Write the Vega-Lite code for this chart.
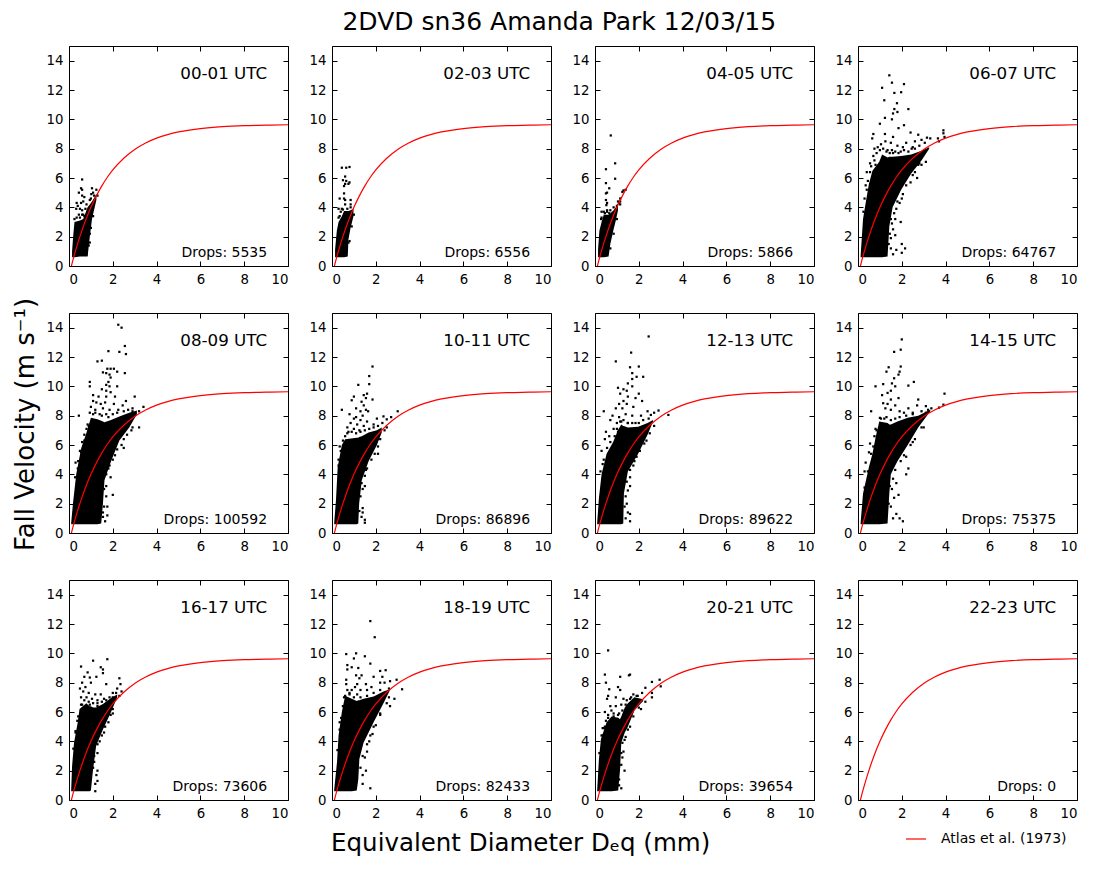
{"$schema":"https://vega.github.io/schema/vega-lite/v6.json","background":"white","padding":{"left":13,"top":9,"right":0,"bottom":0},
"config":{"font":"DejaVu Sans","view":{"stroke":null},"axis":{"grid":false,"labelFont":"DejaVu Sans","labelFontSize":13.3,"labelColor":"black","tickColor":"black","domainColor":"black","title":null}},
"title":{"text":"2DVD sn36 Amanda Park 12/03/15","font":"DejaVu Sans","fontSize":25,"fontWeight":"normal","color":"black","anchor":"middle","offset":11,"dx":13},
"vconcat":[{"title":{"text":"Equivalent Diameter Dₑq (mm)","orient":"bottom","font":"DejaVu Sans","fontSize":24.5,"fontWeight":"normal","color":"black","anchor":"start","dx":318,"offset":13},
"hconcat":[{"title":{"text":"Fall Velocity (m s⁻¹)","orient":"left","font":"DejaVu Sans","fontSize":26,"fontWeight":"normal","color":"black","anchor":"middle","offset":7,"dx":8},
"bounds":"flush",
"data":{"values":[
{"p":"00-01 UTC","n":"Drops: 5535"},{"p":"02-03 UTC","n":"Drops: 6556"},{"p":"04-05 UTC","n":"Drops: 5866"},{"p":"06-07 UTC","n":"Drops: 64767"},{"p":"08-09 UTC","n":"Drops: 100592"},{"p":"10-11 UTC","n":"Drops: 86896"},{"p":"12-13 UTC","n":"Drops: 89622"},{"p":"14-15 UTC","n":"Drops: 75375"},{"p":"16-17 UTC","n":"Drops: 73606"},{"p":"18-19 UTC","n":"Drops: 82433"},{"p":"20-21 UTC","n":"Drops: 39654"},{"p":"22-23 UTC","n":"Drops: 0"},
{"p":"00-01 UTC","d":0.14,"lo":0.6,"hi":1},{"p":"00-01 UTC","d":0.2,"lo":0.6,"hi":2.2},{"p":"00-01 UTC","d":0.25,"lo":0.6,"hi":3},{"p":"00-01 UTC","d":0.5,"lo":0.65,"hi":3.1},{"p":"00-01 UTC","d":0.65,"lo":0.65,"hi":3.2},{"p":"00-01 UTC","d":0.85,"lo":0.65,"hi":4},{"p":"00-01 UTC","d":0.95,"lo":2,"hi":4.2},{"p":"00-01 UTC","d":1.05,"lo":3.2,"hi":4.4},{"p":"00-01 UTC","d":1.25,"lo":4.5,"hi":4.9},
{"p":"02-03 UTC","d":0.14,"lo":0.6,"hi":1.1},{"p":"02-03 UTC","d":0.22,"lo":0.6,"hi":2.4},{"p":"02-03 UTC","d":0.3,"lo":0.6,"hi":3},{"p":"02-03 UTC","d":0.45,"lo":0.6,"hi":3.4},{"p":"02-03 UTC","d":0.55,"lo":0.6,"hi":3.75},{"p":"02-03 UTC","d":0.72,"lo":0.65,"hi":3.75},{"p":"02-03 UTC","d":0.75,"lo":1.8,"hi":3.75},{"p":"02-03 UTC","d":0.85,"lo":2.6,"hi":3.8},{"p":"02-03 UTC","d":0.98,"lo":3.4,"hi":3.9},
{"p":"04-05 UTC","d":0.14,"lo":0.6,"hi":1.1},{"p":"04-05 UTC","d":0.2,"lo":0.6,"hi":2.4},{"p":"04-05 UTC","d":0.3,"lo":0.6,"hi":3},{"p":"04-05 UTC","d":0.4,"lo":0.6,"hi":3.5},{"p":"04-05 UTC","d":0.62,"lo":0.65,"hi":3.5},{"p":"04-05 UTC","d":0.7,"lo":1.5,"hi":3.6},{"p":"04-05 UTC","d":0.85,"lo":2.5,"hi":3.8},{"p":"04-05 UTC","d":0.95,"lo":3.1,"hi":4},{"p":"04-05 UTC","d":1.05,"lo":3.8,"hi":4.3},
{"p":"06-07 UTC","d":0.12,"lo":0.6,"hi":0.7},{"p":"06-07 UTC","d":0.23,"lo":0.6,"hi":3.2},{"p":"06-07 UTC","d":0.35,"lo":0.6,"hi":4.3},{"p":"06-07 UTC","d":0.5,"lo":0.6,"hi":5.6},{"p":"06-07 UTC","d":0.66,"lo":0.6,"hi":6.5},{"p":"06-07 UTC","d":0.97,"lo":0.6,"hi":7.1},{"p":"06-07 UTC","d":1.1,"lo":0.6,"hi":7.6},{"p":"06-07 UTC","d":1.35,"lo":0.65,"hi":7.4},{"p":"06-07 UTC","d":1.43,"lo":2.7,"hi":7.45},{"p":"06-07 UTC","d":1.58,"lo":4,"hi":7.45},{"p":"06-07 UTC","d":1.97,"lo":5.2,"hi":7.5},{"p":"06-07 UTC","d":2.43,"lo":6.3,"hi":7.6},{"p":"06-07 UTC","d":2.9,"lo":7.2,"hi":7.85},{"p":"06-07 UTC","d":3.25,"lo":8,"hi":8.1},
{"p":"08-09 UTC","d":0.1,"lo":0.6,"hi":0.7},{"p":"08-09 UTC","d":0.18,"lo":0.6,"hi":2},{"p":"08-09 UTC","d":0.33,"lo":0.6,"hi":4},{"p":"08-09 UTC","d":0.56,"lo":0.6,"hi":5.8},{"p":"08-09 UTC","d":0.79,"lo":0.6,"hi":6.8},{"p":"08-09 UTC","d":1,"lo":0.6,"hi":7.85},{"p":"08-09 UTC","d":1.3,"lo":0.6,"hi":7.75},{"p":"08-09 UTC","d":1.47,"lo":0.65,"hi":7.65},{"p":"08-09 UTC","d":1.55,"lo":2,"hi":7.6},{"p":"08-09 UTC","d":1.62,"lo":3.6,"hi":7.55},{"p":"08-09 UTC","d":1.92,"lo":4.9,"hi":7.7},{"p":"08-09 UTC","d":2.3,"lo":6.3,"hi":7.95},{"p":"08-09 UTC","d":2.75,"lo":7.2,"hi":8.2},{"p":"08-09 UTC","d":3.1,"lo":8.1,"hi":8.35},
{"p":"10-11 UTC","d":0.1,"lo":0.6,"hi":0.7},{"p":"10-11 UTC","d":0.18,"lo":0.6,"hi":2.2},{"p":"10-11 UTC","d":0.26,"lo":0.6,"hi":4.5},{"p":"10-11 UTC","d":0.45,"lo":0.6,"hi":6},{"p":"10-11 UTC","d":0.6,"lo":0.6,"hi":6.4},{"p":"10-11 UTC","d":1.13,"lo":0.6,"hi":6.5},{"p":"10-11 UTC","d":1.2,"lo":0.65,"hi":6.5},{"p":"10-11 UTC","d":1.24,"lo":2,"hi":6.55},{"p":"10-11 UTC","d":1.36,"lo":3.6,"hi":6.6},{"p":"10-11 UTC","d":1.67,"lo":4.9,"hi":6.85},{"p":"10-11 UTC","d":2.05,"lo":6,"hi":7},{"p":"10-11 UTC","d":2.27,"lo":6.85,"hi":7.2},
{"p":"12-13 UTC","d":0.1,"lo":0.6,"hi":0.7},{"p":"12-13 UTC","d":0.18,"lo":0.6,"hi":2.4},{"p":"12-13 UTC","d":0.3,"lo":0.6,"hi":4},{"p":"12-13 UTC","d":0.53,"lo":0.6,"hi":5.4},{"p":"12-13 UTC","d":0.83,"lo":0.6,"hi":6.2},{"p":"12-13 UTC","d":1.06,"lo":0.6,"hi":7.05},{"p":"12-13 UTC","d":1.2,"lo":0.6,"hi":7.4},{"p":"12-13 UTC","d":1.29,"lo":0.65,"hi":7.3},{"p":"12-13 UTC","d":1.32,"lo":2.7,"hi":7.3},{"p":"12-13 UTC","d":1.5,"lo":4.2,"hi":7.2},{"p":"12-13 UTC","d":1.97,"lo":5.4,"hi":7.25},{"p":"12-13 UTC","d":2.4,"lo":6.7,"hi":7.5},{"p":"12-13 UTC","d":2.65,"lo":7.6,"hi":7.7},
{"p":"14-15 UTC","d":0.12,"lo":0.6,"hi":0.7},{"p":"14-15 UTC","d":0.23,"lo":0.6,"hi":2.7},{"p":"14-15 UTC","d":0.5,"lo":0.6,"hi":4.5},{"p":"14-15 UTC","d":0.66,"lo":0.6,"hi":5.4},{"p":"14-15 UTC","d":0.8,"lo":0.6,"hi":6.5},{"p":"14-15 UTC","d":0.97,"lo":0.6,"hi":7.6},{"p":"14-15 UTC","d":1.35,"lo":0.65,"hi":7.5},{"p":"14-15 UTC","d":1.43,"lo":2.7,"hi":7.4},{"p":"14-15 UTC","d":1.5,"lo":4,"hi":7.4},{"p":"14-15 UTC","d":1.8,"lo":4.9,"hi":7.6},{"p":"14-15 UTC","d":2.27,"lo":6,"hi":7.85},{"p":"14-15 UTC","d":2.75,"lo":7.2,"hi":8},{"p":"14-15 UTC","d":3.3,"lo":8.3,"hi":8.4},
{"p":"16-17 UTC","d":0.1,"lo":0.6,"hi":0.7},{"p":"16-17 UTC","d":0.14,"lo":0.6,"hi":2.3},{"p":"16-17 UTC","d":0.23,"lo":0.6,"hi":3.9},{"p":"16-17 UTC","d":0.4,"lo":0.6,"hi":5.3},{"p":"16-17 UTC","d":0.48,"lo":0.6,"hi":6.2},{"p":"16-17 UTC","d":0.79,"lo":0.6,"hi":6.6},{"p":"16-17 UTC","d":0.94,"lo":0.6,"hi":6.4},{"p":"16-17 UTC","d":1,"lo":0.65,"hi":6.4},{"p":"16-17 UTC","d":1.1,"lo":2.1,"hi":6.3},{"p":"16-17 UTC","d":1.24,"lo":3.7,"hi":6.3},{"p":"16-17 UTC","d":1.55,"lo":4.8,"hi":6.55},{"p":"16-17 UTC","d":1.92,"lo":6,"hi":6.95},{"p":"16-17 UTC","d":2.2,"lo":7,"hi":7.2},
{"p":"18-19 UTC","d":0.1,"lo":0.6,"hi":0.7},{"p":"18-19 UTC","d":0.23,"lo":0.6,"hi":2.6},{"p":"18-19 UTC","d":0.3,"lo":0.6,"hi":4.4},{"p":"18-19 UTC","d":0.45,"lo":0.6,"hi":6},{"p":"18-19 UTC","d":0.6,"lo":0.6,"hi":7.1},{"p":"18-19 UTC","d":0.9,"lo":0.6,"hi":6.9},{"p":"18-19 UTC","d":1.13,"lo":0.65,"hi":6.75},{"p":"18-19 UTC","d":1.2,"lo":1.4,"hi":6.8},{"p":"18-19 UTC","d":1.25,"lo":2.8,"hi":6.8},{"p":"18-19 UTC","d":1.44,"lo":3.9,"hi":6.9},{"p":"18-19 UTC","d":1.9,"lo":5.3,"hi":7.05},{"p":"18-19 UTC","d":2.35,"lo":6.6,"hi":7.4},{"p":"18-19 UTC","d":2.65,"lo":7.5,"hi":7.55},
{"p":"20-21 UTC","d":0.1,"lo":0.6,"hi":0.7},{"p":"20-21 UTC","d":0.18,"lo":0.6,"hi":2.8},{"p":"20-21 UTC","d":0.27,"lo":0.6,"hi":4.15},{"p":"20-21 UTC","d":0.53,"lo":0.6,"hi":5.3},{"p":"20-21 UTC","d":0.76,"lo":0.6,"hi":5.7},{"p":"20-21 UTC","d":1.06,"lo":0.65,"hi":5.6},{"p":"20-21 UTC","d":1.14,"lo":2,"hi":5.5},{"p":"20-21 UTC","d":1.2,"lo":3.9,"hi":5.7},{"p":"20-21 UTC","d":1.36,"lo":4.6,"hi":6.3},{"p":"20-21 UTC","d":1.5,"lo":5,"hi":6.6},{"p":"20-21 UTC","d":1.8,"lo":6.1,"hi":7},{"p":"20-21 UTC","d":2.1,"lo":6.6,"hi":6.9},{"p":"20-21 UTC","d":2.2,"lo":6.75,"hi":6.85},
{"p":"00-01 UTC","d":0.6,"v":5.9},{"p":"00-01 UTC","d":1.05,"v":5.3},{"p":"00-01 UTC","d":0.55,"v":5.3},{"p":"00-01 UTC","d":0.6,"v":5.2},{"p":"00-01 UTC","d":0.45,"v":5},{"p":"00-01 UTC","d":0.6,"v":4.8},{"p":"00-01 UTC","d":0.7,"v":4.7},{"p":"00-01 UTC","d":1.02,"v":4.9},{"p":"00-01 UTC","d":1.1,"v":5},{"p":"00-01 UTC","d":1.25,"v":5.2},{"p":"00-01 UTC","d":0.35,"v":4.3},{"p":"00-01 UTC","d":0.4,"v":4.1},{"p":"00-01 UTC","d":0.55,"v":4.3},{"p":"00-01 UTC","d":0.65,"v":4.4},{"p":"00-01 UTC","d":0.5,"v":3.9},{"p":"00-01 UTC","d":0.6,"v":3.8},{"p":"00-01 UTC","d":0.33,"v":3.9},{"p":"00-01 UTC","d":0.75,"v":3.9},{"p":"00-01 UTC","d":0.45,"v":3.5},{"p":"00-01 UTC","d":0.65,"v":3.5},{"p":"00-01 UTC","d":0.95,"v":2.2},{"p":"00-01 UTC","d":0.9,"v":1.4},{"p":"00-01 UTC","d":0.8,"v":0.8},{"p":"00-01 UTC","d":0.85,"v":1.9},{"p":"00-01 UTC","d":0.8,"v":2.5},{"p":"00-01 UTC","d":1.3,"v":4.8},{"p":"00-01 UTC","d":0.25,"v":3.2},{"p":"00-01 UTC","d":0.35,"v":3.3},{"p":"00-01 UTC","d":0.5,"v":3.3},{"p":"00-01 UTC","d":0.6,"v":3.5},{"p":"00-01 UTC","d":0.7,"v":3.4},{"p":"00-01 UTC","d":0.8,"v":4.2},{"p":"00-01 UTC","d":0.95,"v":4.5},{"p":"00-01 UTC","d":1,"v":4.6},{"p":"00-01 UTC","d":1.15,"v":4.8},{"p":"00-01 UTC","d":0.95,"v":1.6},{"p":"00-01 UTC","d":1,"v":2.6},{"p":"00-01 UTC","d":1.1,"v":3.4},
{"p":"02-03 UTC","d":0.45,"v":6.7},{"p":"02-03 UTC","d":0.65,"v":6.7},{"p":"02-03 UTC","d":0.8,"v":6.75},{"p":"02-03 UTC","d":0.6,"v":6.1},{"p":"02-03 UTC","d":0.5,"v":5.85},{"p":"02-03 UTC","d":0.65,"v":5.8},{"p":"02-03 UTC","d":0.8,"v":5.7},{"p":"02-03 UTC","d":0.75,"v":5.6},{"p":"02-03 UTC","d":0.55,"v":5.45},{"p":"02-03 UTC","d":0.6,"v":5.6},{"p":"02-03 UTC","d":0.55,"v":4.95},{"p":"02-03 UTC","d":0.35,"v":4.6},{"p":"02-03 UTC","d":0.55,"v":4.6},{"p":"02-03 UTC","d":0.6,"v":4.5},{"p":"02-03 UTC","d":0.85,"v":4.5},{"p":"02-03 UTC","d":0.85,"v":4.2},{"p":"02-03 UTC","d":0.6,"v":4.2},{"p":"02-03 UTC","d":0.3,"v":3.9},{"p":"02-03 UTC","d":0.45,"v":3.9},{"p":"02-03 UTC","d":0.35,"v":3.4},{"p":"02-03 UTC","d":0.75,"v":1.6},{"p":"02-03 UTC","d":0.3,"v":3.3},{"p":"02-03 UTC","d":0.4,"v":3.7},{"p":"02-03 UTC","d":0.5,"v":3.85},{"p":"02-03 UTC","d":0.7,"v":3.9},{"p":"02-03 UTC","d":0.85,"v":4},{"p":"02-03 UTC","d":0.8,"v":1.7},{"p":"02-03 UTC","d":0.9,"v":2.7},{"p":"02-03 UTC","d":1,"v":3.5},
{"p":"04-05 UTC","d":0.72,"v":8.9},{"p":"04-05 UTC","d":0.92,"v":7},{"p":"04-05 UTC","d":0.5,"v":6.6},{"p":"04-05 UTC","d":0.92,"v":5.95},{"p":"04-05 UTC","d":0.5,"v":5.65},{"p":"04-05 UTC","d":0.65,"v":5.3},{"p":"04-05 UTC","d":0.5,"v":4.95},{"p":"04-05 UTC","d":0.55,"v":5},{"p":"04-05 UTC","d":0.5,"v":4.5},{"p":"04-05 UTC","d":0.55,"v":4.3},{"p":"04-05 UTC","d":0.52,"v":4.15},{"p":"04-05 UTC","d":1.3,"v":5.15},{"p":"04-05 UTC","d":1.4,"v":5.2},{"p":"04-05 UTC","d":1.25,"v":5.05},{"p":"04-05 UTC","d":1.15,"v":4.6},{"p":"04-05 UTC","d":1.05,"v":4.4},{"p":"04-05 UTC","d":1.1,"v":4.3},{"p":"04-05 UTC","d":1.15,"v":4.2},{"p":"04-05 UTC","d":1,"v":4.1},{"p":"04-05 UTC","d":0.3,"v":3.7},{"p":"04-05 UTC","d":0.45,"v":3.6},{"p":"04-05 UTC","d":0.55,"v":3.8},{"p":"04-05 UTC","d":0.65,"v":3.6},{"p":"04-05 UTC","d":0.28,"v":3.2},{"p":"04-05 UTC","d":0.3,"v":3.3},{"p":"04-05 UTC","d":0.4,"v":3.7},{"p":"04-05 UTC","d":0.55,"v":3.7},{"p":"04-05 UTC","d":0.7,"v":3.8},{"p":"04-05 UTC","d":0.85,"v":4},{"p":"04-05 UTC","d":0.7,"v":1.2},{"p":"04-05 UTC","d":0.85,"v":2.2},{"p":"04-05 UTC","d":1,"v":3.2},{"p":"04-05 UTC","d":1.15,"v":4.4},
{"p":"06-07 UTC","d":1.43,"v":13},{"p":"06-07 UTC","d":1.55,"v":12.5},{"p":"06-07 UTC","d":2.1,"v":12.4},{"p":"06-07 UTC","d":1.1,"v":12.15},{"p":"06-07 UTC","d":1.66,"v":11.8},{"p":"06-07 UTC","d":1.97,"v":11.85},{"p":"06-07 UTC","d":1.2,"v":11.3},{"p":"06-07 UTC","d":1.78,"v":11.1},{"p":"06-07 UTC","d":2.3,"v":10.7},{"p":"06-07 UTC","d":1.66,"v":10.7},{"p":"06-07 UTC","d":1.8,"v":10.5},{"p":"06-07 UTC","d":1.6,"v":10.4},{"p":"06-07 UTC","d":1.23,"v":10.1},{"p":"06-07 UTC","d":1.55,"v":10},{"p":"06-07 UTC","d":1,"v":9.7},{"p":"06-07 UTC","d":2.1,"v":9.6},{"p":"06-07 UTC","d":1.85,"v":9.4},{"p":"06-07 UTC","d":1.23,"v":9},{"p":"06-07 UTC","d":1.6,"v":8.8},{"p":"06-07 UTC","d":0.65,"v":8.7},{"p":"06-07 UTC","d":0.7,"v":9},{"p":"06-07 UTC","d":2.4,"v":9.1},{"p":"06-07 UTC","d":3.9,"v":9.25},{"p":"06-07 UTC","d":3.9,"v":9.05},{"p":"06-07 UTC","d":3.95,"v":8.8},{"p":"06-07 UTC","d":3.65,"v":8.7},{"p":"06-07 UTC","d":3.7,"v":8.5},{"p":"06-07 UTC","d":3.15,"v":8.75},{"p":"06-07 UTC","d":2.75,"v":8.95},{"p":"06-07 UTC","d":3.3,"v":8.7},{"p":"06-07 UTC","d":2.6,"v":8.5},{"p":"06-07 UTC","d":2.9,"v":8.6},{"p":"06-07 UTC","d":3.05,"v":8.4},{"p":"06-07 UTC","d":2.8,"v":8.2},{"p":"06-07 UTC","d":2.5,"v":8.1},{"p":"06-07 UTC","d":2.2,"v":8.4},{"p":"06-07 UTC","d":2.05,"v":8.1},{"p":"06-07 UTC","d":1.8,"v":8.2},{"p":"06-07 UTC","d":1.5,"v":8.4},{"p":"06-07 UTC","d":1.25,"v":8.5},{"p":"06-07 UTC","d":1.05,"v":8.3},{"p":"06-07 UTC","d":0.9,"v":8.1},{"p":"06-07 UTC","d":0.75,"v":8},{"p":"06-07 UTC","d":0.85,"v":7.7},{"p":"06-07 UTC","d":1.35,"v":7.9},{"p":"06-07 UTC","d":1.6,"v":7.7},{"p":"06-07 UTC","d":1.95,"v":7.8},{"p":"06-07 UTC","d":0.7,"v":7.5},{"p":"06-07 UTC","d":0.55,"v":7},{"p":"06-07 UTC","d":0.4,"v":6.4},{"p":"06-07 UTC","d":0.55,"v":6.4},{"p":"06-07 UTC","d":0.35,"v":5.5},{"p":"06-07 UTC","d":2.75,"v":6.9},{"p":"06-07 UTC","d":3.1,"v":7.1},{"p":"06-07 UTC","d":2.8,"v":7},{"p":"06-07 UTC","d":2.5,"v":6.2},{"p":"06-07 UTC","d":2.7,"v":6},{"p":"06-07 UTC","d":2.4,"v":5.7},{"p":"06-07 UTC","d":2.0,"v":4.6},{"p":"06-07 UTC","d":1.9,"v":4.3},{"p":"06-07 UTC","d":1.75,"v":3.9},{"p":"06-07 UTC","d":1.95,"v":3},{"p":"06-07 UTC","d":1.7,"v":3.2},{"p":"06-07 UTC","d":1.55,"v":2.9},{"p":"06-07 UTC","d":1.6,"v":2.5},{"p":"06-07 UTC","d":1.7,"v":2.1},{"p":"06-07 UTC","d":1.5,"v":1.9},{"p":"06-07 UTC","d":2,"v":1.5},{"p":"06-07 UTC","d":2.15,"v":1.2},{"p":"06-07 UTC","d":2,"v":0.9},{"p":"06-07 UTC","d":1.75,"v":1.1},{"p":"06-07 UTC","d":1.6,"v":0.8},{"p":"06-07 UTC","d":1.5,"v":1.2},{"p":"06-07 UTC","d":1.4,"v":1.5},{"p":"06-07 UTC","d":1.45,"v":3.5},{"p":"06-07 UTC","d":1,"v":7.9},{"p":"06-07 UTC","d":1.15,"v":8},{"p":"06-07 UTC","d":1.3,"v":7.8},{"p":"06-07 UTC","d":1.45,"v":7.7},{"p":"06-07 UTC","d":1.55,"v":7.9},{"p":"06-07 UTC","d":1.7,"v":7.8},{"p":"06-07 UTC","d":1.85,"v":7.7},{"p":"06-07 UTC","d":2.1,"v":7.9},{"p":"06-07 UTC","d":2.3,"v":7.8},{"p":"06-07 UTC","d":2.45,"v":8},{"p":"06-07 UTC","d":2.6,"v":8},{"p":"06-07 UTC","d":0.6,"v":6.8},{"p":"06-07 UTC","d":0.75,"v":7.2},{"p":"06-07 UTC","d":0.8,"v":6.9},{"p":"06-07 UTC","d":0.45,"v":5.8},{"p":"06-07 UTC","d":0.3,"v":4.6},{"p":"06-07 UTC","d":0.4,"v":5.2},{"p":"06-07 UTC","d":0.25,"v":3.7},{"p":"06-07 UTC","d":1.45,"v":2.2},{"p":"06-07 UTC","d":1.5,"v":3.2},{"p":"06-07 UTC","d":1.65,"v":3.6},{"p":"06-07 UTC","d":1.8,"v":4.4},{"p":"06-07 UTC","d":2.05,"v":4.9},{"p":"06-07 UTC","d":2.2,"v":5.5},{"p":"06-07 UTC","d":2.6,"v":6.4},{"p":"06-07 UTC","d":2.9,"v":6.9},
{"p":"08-09 UTC","d":2.25,"v":14.2},{"p":"08-09 UTC","d":2.4,"v":14},{"p":"08-09 UTC","d":2.55,"v":12.75},{"p":"08-09 UTC","d":1.8,"v":12.4},{"p":"08-09 UTC","d":2.3,"v":12.35},{"p":"08-09 UTC","d":2.6,"v":12.2},{"p":"08-09 UTC","d":1.3,"v":11.7},{"p":"08-09 UTC","d":1.5,"v":11.75},{"p":"08-09 UTC","d":1.75,"v":11.2},{"p":"08-09 UTC","d":1.9,"v":11.2},{"p":"08-09 UTC","d":2.05,"v":11.2},{"p":"08-09 UTC","d":1.55,"v":10.95},{"p":"08-09 UTC","d":1.7,"v":10.9},{"p":"08-09 UTC","d":1.85,"v":10.8},{"p":"08-09 UTC","d":2.2,"v":11},{"p":"08-09 UTC","d":2.55,"v":10.9},{"p":"08-09 UTC","d":1.9,"v":10.6},{"p":"08-09 UTC","d":1.8,"v":10.3},{"p":"08-09 UTC","d":1.7,"v":10.1},{"p":"08-09 UTC","d":1.85,"v":10},{"p":"08-09 UTC","d":0.95,"v":10.3},{"p":"08-09 UTC","d":0.95,"v":10},{"p":"08-09 UTC","d":2.2,"v":10},{"p":"08-09 UTC","d":1.5,"v":9.8},{"p":"08-09 UTC","d":1.7,"v":9.7},{"p":"08-09 UTC","d":1.9,"v":9.6},{"p":"08-09 UTC","d":1.1,"v":9.4},{"p":"08-09 UTC","d":1.35,"v":9.3},{"p":"08-09 UTC","d":1.7,"v":9.3},{"p":"08-09 UTC","d":2.1,"v":9.3},{"p":"08-09 UTC","d":3,"v":9.3},{"p":"08-09 UTC","d":2.6,"v":9},{"p":"08-09 UTC","d":1.1,"v":9},{"p":"08-09 UTC","d":1.25,"v":8.9},{"p":"08-09 UTC","d":1.45,"v":8.8},{"p":"08-09 UTC","d":1.65,"v":8.9},{"p":"08-09 UTC","d":2.05,"v":8.8},{"p":"08-09 UTC","d":2.45,"v":8.7},{"p":"08-09 UTC","d":1,"v":8.6},{"p":"08-09 UTC","d":1.2,"v":8.4},{"p":"08-09 UTC","d":1.55,"v":8.5},{"p":"08-09 UTC","d":1.85,"v":8.4},{"p":"08-09 UTC","d":2.25,"v":8.4},{"p":"08-09 UTC","d":2.9,"v":8.5},{"p":"08-09 UTC","d":3.4,"v":8.6},{"p":"08-09 UTC","d":3.2,"v":8.3},{"p":"08-09 UTC","d":0.95,"v":8.2},{"p":"08-09 UTC","d":0.45,"v":8},{"p":"08-09 UTC","d":1.1,"v":8.1},{"p":"08-09 UTC","d":1.7,"v":8.1},{"p":"08-09 UTC","d":2,"v":8.1},{"p":"08-09 UTC","d":0.85,"v":7.4},{"p":"08-09 UTC","d":0.7,"v":6.7},{"p":"08-09 UTC","d":0.6,"v":6.2},{"p":"08-09 UTC","d":0.55,"v":5.5},{"p":"08-09 UTC","d":0.3,"v":4.8},{"p":"08-09 UTC","d":0.4,"v":4.4},{"p":"08-09 UTC","d":3.2,"v":7.2},{"p":"08-09 UTC","d":2.9,"v":7.2},{"p":"08-09 UTC","d":2.5,"v":6.4},{"p":"08-09 UTC","d":2.5,"v":5.8},{"p":"08-09 UTC","d":2.1,"v":5.3},{"p":"08-09 UTC","d":1.9,"v":3.8},{"p":"08-09 UTC","d":2,"v":2.6},{"p":"08-09 UTC","d":1.8,"v":4.4},{"p":"08-09 UTC","d":1.7,"v":3.2},{"p":"08-09 UTC","d":1.7,"v":2.5},{"p":"08-09 UTC","d":1.75,"v":1.8},{"p":"08-09 UTC","d":1.75,"v":1.2},{"p":"08-09 UTC","d":1.65,"v":0.8},{"p":"08-09 UTC","d":1.55,"v":1.1},{"p":"08-09 UTC","d":1.5,"v":2.6},{"p":"08-09 UTC","d":0.9,"v":7.3},{"p":"08-09 UTC","d":0.8,"v":7.1},{"p":"08-09 UTC","d":0.7,"v":6.3},{"p":"08-09 UTC","d":0.5,"v":5.6},{"p":"08-09 UTC","d":0.42,"v":4.9},{"p":"08-09 UTC","d":0.28,"v":3.8},{"p":"08-09 UTC","d":1.2,"v":8.2},{"p":"08-09 UTC","d":1.4,"v":8.1},{"p":"08-09 UTC","d":1.5,"v":8},{"p":"08-09 UTC","d":1.8,"v":7.9},{"p":"08-09 UTC","d":2.2,"v":8.2},{"p":"08-09 UTC","d":2.5,"v":8.3},{"p":"08-09 UTC","d":2.7,"v":8.4},{"p":"08-09 UTC","d":2.9,"v":8.3},{"p":"08-09 UTC","d":1.6,"v":3},{"p":"08-09 UTC","d":1.6,"v":1.8},{"p":"08-09 UTC","d":1.55,"v":1.4},{"p":"08-09 UTC","d":1.7,"v":4},{"p":"08-09 UTC","d":1.85,"v":4.6},{"p":"08-09 UTC","d":2,"v":5},{"p":"08-09 UTC","d":2.2,"v":5.7},{"p":"08-09 UTC","d":2.4,"v":6},{"p":"08-09 UTC","d":2.65,"v":6.7},{"p":"08-09 UTC","d":2.85,"v":7},
{"p":"10-11 UTC","d":1.85,"v":11.35},{"p":"10-11 UTC","d":1.7,"v":10.7},{"p":"10-11 UTC","d":1.7,"v":10.15},{"p":"10-11 UTC","d":1.2,"v":10.1},{"p":"10-11 UTC","d":1.6,"v":9.5},{"p":"10-11 UTC","d":1.45,"v":9.4},{"p":"10-11 UTC","d":1,"v":9.3},{"p":"10-11 UTC","d":1.55,"v":9.2},{"p":"10-11 UTC","d":0.9,"v":9.05},{"p":"10-11 UTC","d":1.85,"v":9.1},{"p":"10-11 UTC","d":1.35,"v":8.95},{"p":"10-11 UTC","d":1.45,"v":8.7},{"p":"10-11 UTC","d":1.1,"v":8.5},{"p":"10-11 UTC","d":1.55,"v":8.4},{"p":"10-11 UTC","d":0.45,"v":8.4},{"p":"10-11 UTC","d":1.3,"v":8.3},{"p":"10-11 UTC","d":1.65,"v":8.3},{"p":"10-11 UTC","d":3,"v":8.3},{"p":"10-11 UTC","d":0.8,"v":8.1},{"p":"10-11 UTC","d":1.4,"v":8},{"p":"10-11 UTC","d":1.1,"v":7.9},{"p":"10-11 UTC","d":2.35,"v":7.95},{"p":"10-11 UTC","d":2.7,"v":7.9},{"p":"10-11 UTC","d":1,"v":7.8},{"p":"10-11 UTC","d":1.3,"v":7.7},{"p":"10-11 UTC","d":2.05,"v":7.8},{"p":"10-11 UTC","d":2.5,"v":7.75},{"p":"10-11 UTC","d":1.6,"v":7.6},{"p":"10-11 UTC","d":0.85,"v":7.5},{"p":"10-11 UTC","d":1.15,"v":7.4},{"p":"10-11 UTC","d":1.45,"v":7.3},{"p":"10-11 UTC","d":1.9,"v":7.4},{"p":"10-11 UTC","d":2.3,"v":7.5},{"p":"10-11 UTC","d":0.7,"v":7.2},{"p":"10-11 UTC","d":1,"v":7.1},{"p":"10-11 UTC","d":1.25,"v":7},{"p":"10-11 UTC","d":0.6,"v":6.6},{"p":"10-11 UTC","d":0.75,"v":6.9},{"p":"10-11 UTC","d":2.5,"v":7.2},{"p":"10-11 UTC","d":0.35,"v":5.9},{"p":"10-11 UTC","d":0.3,"v":4.6},{"p":"10-11 UTC","d":2.1,"v":5.9},{"p":"10-11 UTC","d":2.1,"v":5.4},{"p":"10-11 UTC","d":1.6,"v":4.4},{"p":"10-11 UTC","d":1.5,"v":3.9},{"p":"10-11 UTC","d":1.5,"v":3.2},{"p":"10-11 UTC","d":1.35,"v":3.4},{"p":"10-11 UTC","d":1.4,"v":1.7},{"p":"10-11 UTC","d":1.4,"v":1.4},{"p":"10-11 UTC","d":1.35,"v":1.1},{"p":"10-11 UTC","d":1.5,"v":0.9},{"p":"10-11 UTC","d":1.5,"v":0.7},{"p":"10-11 UTC","d":0.5,"v":6.3},{"p":"10-11 UTC","d":0.4,"v":5.6},{"p":"10-11 UTC","d":0.3,"v":5},{"p":"10-11 UTC","d":0.7,"v":6.8},{"p":"10-11 UTC","d":0.9,"v":6.9},{"p":"10-11 UTC","d":1.1,"v":6.8},{"p":"10-11 UTC","d":1.3,"v":6.9},{"p":"10-11 UTC","d":1.5,"v":7},{"p":"10-11 UTC","d":1.7,"v":7.1},{"p":"10-11 UTC","d":1.9,"v":7.2},{"p":"10-11 UTC","d":2.1,"v":7.3},{"p":"10-11 UTC","d":1.25,"v":1.5},{"p":"10-11 UTC","d":1.3,"v":2.5},{"p":"10-11 UTC","d":1.4,"v":3},{"p":"10-11 UTC","d":1.55,"v":4.3},{"p":"10-11 UTC","d":1.8,"v":5},{"p":"10-11 UTC","d":1.95,"v":5.4},{"p":"10-11 UTC","d":2.2,"v":6.4},{"p":"10-11 UTC","d":2.4,"v":7},
{"p":"12-13 UTC","d":2.45,"v":13.4},{"p":"12-13 UTC","d":1.65,"v":12.3},{"p":"12-13 UTC","d":0.95,"v":11.7},{"p":"12-13 UTC","d":1.6,"v":11.3},{"p":"12-13 UTC","d":2,"v":11.35},{"p":"12-13 UTC","d":1.7,"v":10.9},{"p":"12-13 UTC","d":2.2,"v":10.65},{"p":"12-13 UTC","d":1.9,"v":10.65},{"p":"12-13 UTC","d":1.7,"v":10.5},{"p":"12-13 UTC","d":1.5,"v":10.2},{"p":"12-13 UTC","d":1.7,"v":10},{"p":"12-13 UTC","d":1.05,"v":9.9},{"p":"12-13 UTC","d":1.3,"v":9.8},{"p":"12-13 UTC","d":1.45,"v":9.7},{"p":"12-13 UTC","d":1.15,"v":9.5},{"p":"12-13 UTC","d":2,"v":9.5},{"p":"12-13 UTC","d":1.5,"v":9.3},{"p":"12-13 UTC","d":1.85,"v":9.2},{"p":"12-13 UTC","d":1.3,"v":9},{"p":"12-13 UTC","d":2.15,"v":9},{"p":"12-13 UTC","d":1.1,"v":8.8},{"p":"12-13 UTC","d":1.45,"v":8.8},{"p":"12-13 UTC","d":1.75,"v":8.6},{"p":"12-13 UTC","d":0.95,"v":8.5},{"p":"12-13 UTC","d":1.25,"v":8.5},{"p":"12-13 UTC","d":2.4,"v":8.3},{"p":"12-13 UTC","d":2.9,"v":8.35},{"p":"12-13 UTC","d":3.35,"v":8.05},{"p":"12-13 UTC","d":2.55,"v":8.05},{"p":"12-13 UTC","d":2.7,"v":8.2},{"p":"12-13 UTC","d":0.4,"v":8.3},{"p":"12-13 UTC","d":0.8,"v":8},{"p":"12-13 UTC","d":1.4,"v":8.1},{"p":"12-13 UTC","d":1.7,"v":8},{"p":"12-13 UTC","d":2.1,"v":8},{"p":"12-13 UTC","d":1.1,"v":7.9},{"p":"12-13 UTC","d":0.7,"v":7.7},{"p":"12-13 UTC","d":1,"v":7.5},{"p":"12-13 UTC","d":1.2,"v":7.6},{"p":"12-13 UTC","d":1.5,"v":7.5},{"p":"12-13 UTC","d":1.85,"v":7.5},{"p":"12-13 UTC","d":0.85,"v":7.1},{"p":"12-13 UTC","d":1.05,"v":6.9},{"p":"12-13 UTC","d":0.5,"v":6.9},{"p":"12-13 UTC","d":0.65,"v":6.6},{"p":"12-13 UTC","d":0.45,"v":6.4},{"p":"12-13 UTC","d":0.3,"v":5.6},{"p":"12-13 UTC","d":0.35,"v":4.7},{"p":"12-13 UTC","d":2.7,"v":7.3},{"p":"12-13 UTC","d":2.35,"v":6.3},{"p":"12-13 UTC","d":1.9,"v":5.2},{"p":"12-13 UTC","d":1.75,"v":4.6},{"p":"12-13 UTC","d":1.6,"v":3.8},{"p":"12-13 UTC","d":1.6,"v":3.2},{"p":"12-13 UTC","d":1.5,"v":2.9},{"p":"12-13 UTC","d":1.45,"v":2},{"p":"12-13 UTC","d":1.5,"v":1.4},{"p":"12-13 UTC","d":1.6,"v":1.3},{"p":"12-13 UTC","d":1.6,"v":0.8},{"p":"12-13 UTC","d":1.4,"v":1},{"p":"12-13 UTC","d":0.25,"v":4.2},{"p":"12-13 UTC","d":0.4,"v":5},{"p":"12-13 UTC","d":0.55,"v":5.8},{"p":"12-13 UTC","d":0.7,"v":6.2},{"p":"12-13 UTC","d":0.9,"v":6.6},{"p":"12-13 UTC","d":1,"v":7.1},{"p":"12-13 UTC","d":1.15,"v":7.6},{"p":"12-13 UTC","d":1.3,"v":7.7},{"p":"12-13 UTC","d":1.5,"v":7.5},{"p":"12-13 UTC","d":1.7,"v":7.5},{"p":"12-13 UTC","d":2,"v":7.5},{"p":"12-13 UTC","d":2.2,"v":7.7},{"p":"12-13 UTC","d":2.45,"v":7.8},{"p":"12-13 UTC","d":1.35,"v":1.8},{"p":"12-13 UTC","d":1.4,"v":2.5},{"p":"12-13 UTC","d":1.45,"v":3.5},{"p":"12-13 UTC","d":1.6,"v":4.3},{"p":"12-13 UTC","d":1.8,"v":4.9},{"p":"12-13 UTC","d":2.05,"v":5.6},{"p":"12-13 UTC","d":2.25,"v":6.1},{"p":"12-13 UTC","d":2.5,"v":6.8},
{"p":"14-15 UTC","d":2.0,"v":13.2},{"p":"14-15 UTC","d":1.95,"v":12.5},{"p":"14-15 UTC","d":1.65,"v":12.35},{"p":"14-15 UTC","d":1.95,"v":11.35},{"p":"14-15 UTC","d":1.4,"v":11.3},{"p":"14-15 UTC","d":1.3,"v":11},{"p":"14-15 UTC","d":1.9,"v":11},{"p":"14-15 UTC","d":1.85,"v":10.8},{"p":"14-15 UTC","d":1.65,"v":10.55},{"p":"14-15 UTC","d":2.55,"v":10.3},{"p":"14-15 UTC","d":1.15,"v":10.15},{"p":"14-15 UTC","d":1.55,"v":10.2},{"p":"14-15 UTC","d":0.8,"v":10},{"p":"14-15 UTC","d":1.7,"v":10},{"p":"14-15 UTC","d":2.3,"v":10.05},{"p":"14-15 UTC","d":1.5,"v":9.7},{"p":"14-15 UTC","d":1.35,"v":9.55},{"p":"14-15 UTC","d":3.95,"v":9.5},{"p":"14-15 UTC","d":1.1,"v":9.4},{"p":"14-15 UTC","d":1.85,"v":9.2},{"p":"14-15 UTC","d":1.5,"v":9.1},{"p":"14-15 UTC","d":2.75,"v":9.1},{"p":"14-15 UTC","d":1.15,"v":8.85},{"p":"14-15 UTC","d":1.35,"v":8.8},{"p":"14-15 UTC","d":1.7,"v":8.7},{"p":"14-15 UTC","d":3.1,"v":8.65},{"p":"14-15 UTC","d":3.9,"v":8.75},{"p":"14-15 UTC","d":3.7,"v":8.55},{"p":"14-15 UTC","d":2.7,"v":8.7},{"p":"14-15 UTC","d":2.3,"v":8.5},{"p":"14-15 UTC","d":1.25,"v":8.5},{"p":"14-15 UTC","d":1.5,"v":8.4},{"p":"14-15 UTC","d":1.9,"v":8.3},{"p":"14-15 UTC","d":2.1,"v":8.2},{"p":"14-15 UTC","d":2.5,"v":8.2},{"p":"14-15 UTC","d":2.9,"v":8.3},{"p":"14-15 UTC","d":3.2,"v":8.4},{"p":"14-15 UTC","d":3.35,"v":8.5},{"p":"14-15 UTC","d":3.1,"v":8.2},{"p":"14-15 UTC","d":0.6,"v":8.3},{"p":"14-15 UTC","d":1.05,"v":7.8},{"p":"14-15 UTC","d":1.3,"v":7.9},{"p":"14-15 UTC","d":1.7,"v":7.8},{"p":"14-15 UTC","d":0.8,"v":7.1},{"p":"14-15 UTC","d":0.75,"v":6.6},{"p":"14-15 UTC","d":0.55,"v":6.1},{"p":"14-15 UTC","d":0.5,"v":5.5},{"p":"14-15 UTC","d":0.35,"v":4.8},{"p":"14-15 UTC","d":0.3,"v":4.2},{"p":"14-15 UTC","d":2.9,"v":7.2},{"p":"14-15 UTC","d":2.5,"v":6.2},{"p":"14-15 UTC","d":2.2,"v":5.2},{"p":"14-15 UTC","d":2.3,"v":4.4},{"p":"14-15 UTC","d":2.2,"v":4},{"p":"14-15 UTC","d":1.75,"v":3.4},{"p":"14-15 UTC","d":1.85,"v":2.6},{"p":"14-15 UTC","d":1.65,"v":2.4},{"p":"14-15 UTC","d":1.75,"v":1.3},{"p":"14-15 UTC","d":1.9,"v":1},{"p":"14-15 UTC","d":2.05,"v":0.8},{"p":"14-15 UTC","d":1.6,"v":1},{"p":"14-15 UTC","d":1.5,"v":1.8},{"p":"14-15 UTC","d":1.55,"v":3},{"p":"14-15 UTC","d":0.3,"v":3.1},{"p":"14-15 UTC","d":0.45,"v":4.2},{"p":"14-15 UTC","d":0.6,"v":5.4},{"p":"14-15 UTC","d":0.7,"v":5.9},{"p":"14-15 UTC","d":0.85,"v":7},{"p":"14-15 UTC","d":1.0,"v":7.85},{"p":"14-15 UTC","d":1.2,"v":7.8},{"p":"14-15 UTC","d":1.5,"v":7.7},{"p":"14-15 UTC","d":1.9,"v":7.9},{"p":"14-15 UTC","d":2.2,"v":8},{"p":"14-15 UTC","d":2.5,"v":8.1},{"p":"14-15 UTC","d":1.4,"v":2},{"p":"14-15 UTC","d":1.45,"v":3.2},{"p":"14-15 UTC","d":1.6,"v":3.7},{"p":"14-15 UTC","d":1.7,"v":4.3},{"p":"14-15 UTC","d":1.95,"v":4.9},{"p":"14-15 UTC","d":2.1,"v":5.3},{"p":"14-15 UTC","d":2.4,"v":6},{"p":"14-15 UTC","d":2.6,"v":6.4},{"p":"14-15 UTC","d":3,"v":7.2},
{"p":"16-17 UTC","d":1.75,"v":9.6},{"p":"16-17 UTC","d":1.1,"v":9.5},{"p":"16-17 UTC","d":0.55,"v":9.1},{"p":"16-17 UTC","d":1.45,"v":9.05},{"p":"16-17 UTC","d":1.55,"v":8.9},{"p":"16-17 UTC","d":1.55,"v":8.65},{"p":"16-17 UTC","d":0.85,"v":8.7},{"p":"16-17 UTC","d":0.7,"v":8.4},{"p":"16-17 UTC","d":0.95,"v":8.35},{"p":"16-17 UTC","d":1.25,"v":8.4},{"p":"16-17 UTC","d":2.3,"v":8.3},{"p":"16-17 UTC","d":0.6,"v":8},{"p":"16-17 UTC","d":1,"v":8},{"p":"16-17 UTC","d":1.7,"v":7.9},{"p":"16-17 UTC","d":2.35,"v":7.9},{"p":"16-17 UTC","d":0.5,"v":7.6},{"p":"16-17 UTC","d":0.75,"v":7.7},{"p":"16-17 UTC","d":2.2,"v":7.6},{"p":"16-17 UTC","d":2.4,"v":7.4},{"p":"16-17 UTC","d":0.65,"v":7.4},{"p":"16-17 UTC","d":0.9,"v":7.3},{"p":"16-17 UTC","d":1.2,"v":7.2},{"p":"16-17 UTC","d":1.45,"v":7.2},{"p":"16-17 UTC","d":2,"v":7.3},{"p":"16-17 UTC","d":2.15,"v":7.3},{"p":"16-17 UTC","d":0.55,"v":7},{"p":"16-17 UTC","d":0.8,"v":7},{"p":"16-17 UTC","d":1.05,"v":6.9},{"p":"16-17 UTC","d":1.3,"v":6.8},{"p":"16-17 UTC","d":1.6,"v":6.9},{"p":"16-17 UTC","d":1.85,"v":7},{"p":"16-17 UTC","d":0.6,"v":6.5},{"p":"16-17 UTC","d":0.95,"v":6.5},{"p":"16-17 UTC","d":1.3,"v":6.4},{"p":"16-17 UTC","d":2.3,"v":7.1},{"p":"16-17 UTC","d":2.0,"v":5.9},{"p":"16-17 UTC","d":1.9,"v":5.8},{"p":"16-17 UTC","d":1.65,"v":5},{"p":"16-17 UTC","d":1.5,"v":4.4},{"p":"16-17 UTC","d":1.3,"v":3.8},{"p":"16-17 UTC","d":0.3,"v":4.6},{"p":"16-17 UTC","d":0.38,"v":5.4},{"p":"16-17 UTC","d":1.3,"v":2},{"p":"16-17 UTC","d":1.25,"v":1.7},{"p":"16-17 UTC","d":1.3,"v":1.3},{"p":"16-17 UTC","d":1.2,"v":1.1},{"p":"16-17 UTC","d":1.2,"v":0.6},{"p":"16-17 UTC","d":1.1,"v":2.2},{"p":"16-17 UTC","d":1.15,"v":3},{"p":"16-17 UTC","d":0.2,"v":3.5},{"p":"16-17 UTC","d":0.3,"v":4.7},{"p":"16-17 UTC","d":0.42,"v":5.7},{"p":"16-17 UTC","d":0.55,"v":6.5},{"p":"16-17 UTC","d":0.7,"v":6.8},{"p":"16-17 UTC","d":0.9,"v":6.7},{"p":"16-17 UTC","d":1.1,"v":6.6},{"p":"16-17 UTC","d":1.3,"v":6.6},{"p":"16-17 UTC","d":1.5,"v":6.7},{"p":"16-17 UTC","d":1.7,"v":6.8},{"p":"16-17 UTC","d":2,"v":7},{"p":"16-17 UTC","d":1.15,"v":2.6},{"p":"16-17 UTC","d":1.3,"v":3.2},{"p":"16-17 UTC","d":1.4,"v":4},{"p":"16-17 UTC","d":1.6,"v":4.6},{"p":"16-17 UTC","d":1.8,"v":5.3},{"p":"16-17 UTC","d":2,"v":6.2},
{"p":"18-19 UTC","d":1.75,"v":12.2},{"p":"18-19 UTC","d":1.95,"v":11.1},{"p":"18-19 UTC","d":0.65,"v":9.95},{"p":"18-19 UTC","d":1.1,"v":10},{"p":"18-19 UTC","d":1.5,"v":9.8},{"p":"18-19 UTC","d":1.0,"v":9.65},{"p":"18-19 UTC","d":1.75,"v":9.3},{"p":"18-19 UTC","d":0.7,"v":9.2},{"p":"18-19 UTC","d":0.7,"v":8.9},{"p":"18-19 UTC","d":0.9,"v":9.05},{"p":"18-19 UTC","d":1.2,"v":9},{"p":"18-19 UTC","d":2.2,"v":8.8},{"p":"18-19 UTC","d":2.45,"v":8.85},{"p":"18-19 UTC","d":1.1,"v":8.5},{"p":"18-19 UTC","d":1.35,"v":8.5},{"p":"18-19 UTC","d":1.9,"v":8.4},{"p":"18-19 UTC","d":2.3,"v":8.4},{"p":"18-19 UTC","d":0.65,"v":8.2},{"p":"18-19 UTC","d":1.25,"v":8.3},{"p":"18-19 UTC","d":2.65,"v":8.1},{"p":"18-19 UTC","d":2.95,"v":8.2},{"p":"18-19 UTC","d":0.65,"v":7.9},{"p":"18-19 UTC","d":1.15,"v":7.9},{"p":"18-19 UTC","d":1.55,"v":7.9},{"p":"18-19 UTC","d":2.2,"v":8},{"p":"18-19 UTC","d":2.4,"v":8},{"p":"18-19 UTC","d":1.05,"v":7.7},{"p":"18-19 UTC","d":1.8,"v":7.7},{"p":"18-19 UTC","d":2.6,"v":7.6},{"p":"18-19 UTC","d":3.2,"v":7.55},{"p":"18-19 UTC","d":0.7,"v":7.5},{"p":"18-19 UTC","d":0.9,"v":7.5},{"p":"18-19 UTC","d":1.3,"v":7.5},{"p":"18-19 UTC","d":1.6,"v":7.5},{"p":"18-19 UTC","d":0.8,"v":7.3},{"p":"18-19 UTC","d":1.15,"v":7.2},{"p":"18-19 UTC","d":0.6,"v":7.1},{"p":"18-19 UTC","d":2.6,"v":7},{"p":"18-19 UTC","d":2.85,"v":6.9},{"p":"18-19 UTC","d":2.65,"v":6.4},{"p":"18-19 UTC","d":2.2,"v":5.8},{"p":"18-19 UTC","d":1.9,"v":5},{"p":"18-19 UTC","d":1.85,"v":4.5},{"p":"18-19 UTC","d":1.7,"v":4},{"p":"18-19 UTC","d":1.6,"v":3.3},{"p":"18-19 UTC","d":1.5,"v":2.9},{"p":"18-19 UTC","d":1.55,"v":2},{"p":"18-19 UTC","d":1.4,"v":1.7},{"p":"18-19 UTC","d":1.75,"v":0.8},{"p":"18-19 UTC","d":1.4,"v":1.1},{"p":"18-19 UTC","d":0.35,"v":5.3},{"p":"18-19 UTC","d":0.25,"v":3.4},{"p":"18-19 UTC","d":0.35,"v":4.8},{"p":"18-19 UTC","d":0.42,"v":5.6},{"p":"18-19 UTC","d":0.5,"v":6.4},{"p":"18-19 UTC","d":0.55,"v":7},{"p":"18-19 UTC","d":0.8,"v":7.2},{"p":"18-19 UTC","d":1,"v":7},{"p":"18-19 UTC","d":1.3,"v":7},{"p":"18-19 UTC","d":1.6,"v":7.1},{"p":"18-19 UTC","d":1.9,"v":7.3},{"p":"18-19 UTC","d":2.2,"v":7.5},{"p":"18-19 UTC","d":1.3,"v":2.2},{"p":"18-19 UTC","d":1.4,"v":3},{"p":"18-19 UTC","d":1.6,"v":3.8},{"p":"18-19 UTC","d":1.75,"v":4.4},{"p":"18-19 UTC","d":2,"v":5.1},{"p":"18-19 UTC","d":2.2,"v":5.9},{"p":"18-19 UTC","d":2.5,"v":6.6},
{"p":"20-21 UTC","d":0.6,"v":10.2},{"p":"20-21 UTC","d":0.45,"v":8.55},{"p":"20-21 UTC","d":1.15,"v":8.4},{"p":"20-21 UTC","d":1.6,"v":8.55},{"p":"20-21 UTC","d":1.55,"v":8.5},{"p":"20-21 UTC","d":0.5,"v":8},{"p":"20-21 UTC","d":2.95,"v":8.2},{"p":"20-21 UTC","d":2.6,"v":8.05},{"p":"20-21 UTC","d":0.65,"v":7.55},{"p":"20-21 UTC","d":1.05,"v":7.7},{"p":"20-21 UTC","d":1.15,"v":7.5},{"p":"20-21 UTC","d":2.3,"v":7.65},{"p":"20-21 UTC","d":3.0,"v":7.75},{"p":"20-21 UTC","d":2.15,"v":7.3},{"p":"20-21 UTC","d":2.6,"v":7.3},{"p":"20-21 UTC","d":2.6,"v":7},{"p":"20-21 UTC","d":0.6,"v":7.1},{"p":"20-21 UTC","d":0.55,"v":6.9},{"p":"20-21 UTC","d":0.95,"v":7},{"p":"20-21 UTC","d":1.3,"v":6.9},{"p":"20-21 UTC","d":1.75,"v":7.2},{"p":"20-21 UTC","d":1.9,"v":7.1},{"p":"20-21 UTC","d":2.3,"v":6.7},{"p":"20-21 UTC","d":0.7,"v":6.4},{"p":"20-21 UTC","d":0.95,"v":6.4},{"p":"20-21 UTC","d":1.2,"v":6.5},{"p":"20-21 UTC","d":1.45,"v":6.8},{"p":"20-21 UTC","d":1.6,"v":6.9},{"p":"20-21 UTC","d":2.1,"v":6.2},{"p":"20-21 UTC","d":0.45,"v":6},{"p":"20-21 UTC","d":0.75,"v":6.1},{"p":"20-21 UTC","d":0.6,"v":5.8},{"p":"20-21 UTC","d":0.85,"v":5.7},{"p":"20-21 UTC","d":1.05,"v":5.8},{"p":"20-21 UTC","d":0.5,"v":5.4},{"p":"20-21 UTC","d":0.7,"v":5.3},{"p":"20-21 UTC","d":0.9,"v":5.3},{"p":"20-21 UTC","d":0.35,"v":4.9},{"p":"20-21 UTC","d":0.45,"v":5},{"p":"20-21 UTC","d":0.35,"v":4.4},{"p":"20-21 UTC","d":1.5,"v":4.8},{"p":"20-21 UTC","d":1.35,"v":4.1},{"p":"20-21 UTC","d":1.25,"v":3.9},{"p":"20-21 UTC","d":1.05,"v":3.5},{"p":"20-21 UTC","d":1.2,"v":3.2},{"p":"20-21 UTC","d":1.25,"v":2.9},{"p":"20-21 UTC","d":1.35,"v":2},{"p":"20-21 UTC","d":1.1,"v":2.3},{"p":"20-21 UTC","d":1.1,"v":1.4},{"p":"20-21 UTC","d":1.2,"v":0.8},{"p":"20-21 UTC","d":1.1,"v":1},{"p":"20-21 UTC","d":0.2,"v":3.2},{"p":"20-21 UTC","d":0.3,"v":4.4},{"p":"20-21 UTC","d":0.42,"v":4.9},{"p":"20-21 UTC","d":0.6,"v":5.6},{"p":"20-21 UTC","d":0.85,"v":5.9},{"p":"20-21 UTC","d":1.1,"v":5.9},{"p":"20-21 UTC","d":1.25,"v":6.1},{"p":"20-21 UTC","d":1.4,"v":6.5},{"p":"20-21 UTC","d":1.65,"v":7},{"p":"20-21 UTC","d":1.95,"v":7.1},{"p":"20-21 UTC","d":1.2,"v":2.4},{"p":"20-21 UTC","d":1.3,"v":3.3},{"p":"20-21 UTC","d":1.4,"v":4.3},{"p":"20-21 UTC","d":1.6,"v":5},{"p":"20-21 UTC","d":1.75,"v":5.7},{"p":"20-21 UTC","d":2,"v":6.3}
]},
"columns":4,
"facet":{"field":"p","type":"nominal","header":{"labelExpr":"''","labelFontSize":0,"labelPadding":0,"title":null}},
"spacing":{"column":44,"row":47},
"resolve":{"axis":{"x":"independent","y":"independent"}},
"spec":{"width":219,"height":220,
"resolve":{"axis":{"x":"independent","y":"independent"}},
"layer":[
{"transform":[{"filter":"isValid(datum.hi)"}],"mark":{"type":"area","color":"black","opacity":1,"line":false},"encoding":{"x":{"field":"d","type":"quantitative","scale":{"domain":[0,10],"nice":false},"axis":{"values":[0,2,4,6,8,10],"tickSize":-5,"labelPadding":11,"format":"d"}},"y":{"field":"hi","type":"quantitative","scale":{"domain":[0,15],"nice":false},"stack":null,"axis":{"values":[0,2,4,6,8,10,12,14],"tickSize":-5,"labelPadding":11,"format":"d"}},"y2":{"field":"lo"}}},
{"transform":[{"filter":"isValid(datum.v)"}],"mark":{"type":"square","color":"black","size":5,"opacity":1,"strokeWidth":0},"encoding":{"x":{"field":"d","type":"quantitative","axis":{"orient":"top","values":[0,2,4,6,8,10],"tickSize":-5,"labels":false}},"y":{"field":"v","type":"quantitative","axis":{"orient":"right","values":[0,2,4,6,8,10,12,14],"tickSize":-5,"labels":false}}}},
{"data":{"values":[{"d":0.11,"f":0},{"d":0.2,"f":0.52},{"d":0.3,"f":1.05},{"d":0.5,"f":2.02},{"d":0.75,"f":3.08},{"d":1,"f":4},{"d":1.25,"f":4.78},{"d":1.5,"f":5.46},{"d":1.75,"f":6.05},{"d":2,"f":6.55},{"d":2.5,"f":7.35},{"d":3,"f":7.95},{"d":3.5,"f":8.39},{"d":4,"f":8.72},{"d":4.5,"f":8.96},{"d":5,"f":9.14},{"d":5.5,"f":9.27},{"d":6,"f":9.37},{"d":7,"f":9.5},{"d":8,"f":9.57},{"d":9,"f":9.6},{"d":10,"f":9.63}]},"mark":{"type":"line","strokeWidth":1.2,"interpolate":"monotone"},"encoding":{"x":{"field":"d","type":"quantitative","axis":null},"y":{"field":"f","type":"quantitative","axis":null},"color":{"datum":"Atlas et al. (1973)","type":"nominal","scale":{"range":["#ff0000"]},"legend":{"title":null,"orient":"none","legendX":836,"legendY":782,"symbolType":"stroke","symbolSize":400,"labelFontSize":14,"labelOffset":14,"labelFont":"DejaVu Sans","labelColor":"black","symbolStrokeWidth":1.2}}}},
{"transform":[{"filter":"isValid(datum.n)"}],"mark":{"type":"text","fontSize":16.7,"align":"right","color":"black"},"encoding":{"x":{"datum":9.05,"type":"quantitative","axis":null},"y":{"datum":13.1,"type":"quantitative","axis":null},"text":{"field":"p"}}},
{"transform":[{"filter":"isValid(datum.n)"}],"mark":{"type":"text","fontSize":14,"align":"right","color":"black"},"encoding":{"x":{"datum":9.05,"type":"quantitative","axis":null},"y":{"datum":0.92,"type":"quantitative","axis":null},"text":{"field":"n"}}}
]}}]}]}
